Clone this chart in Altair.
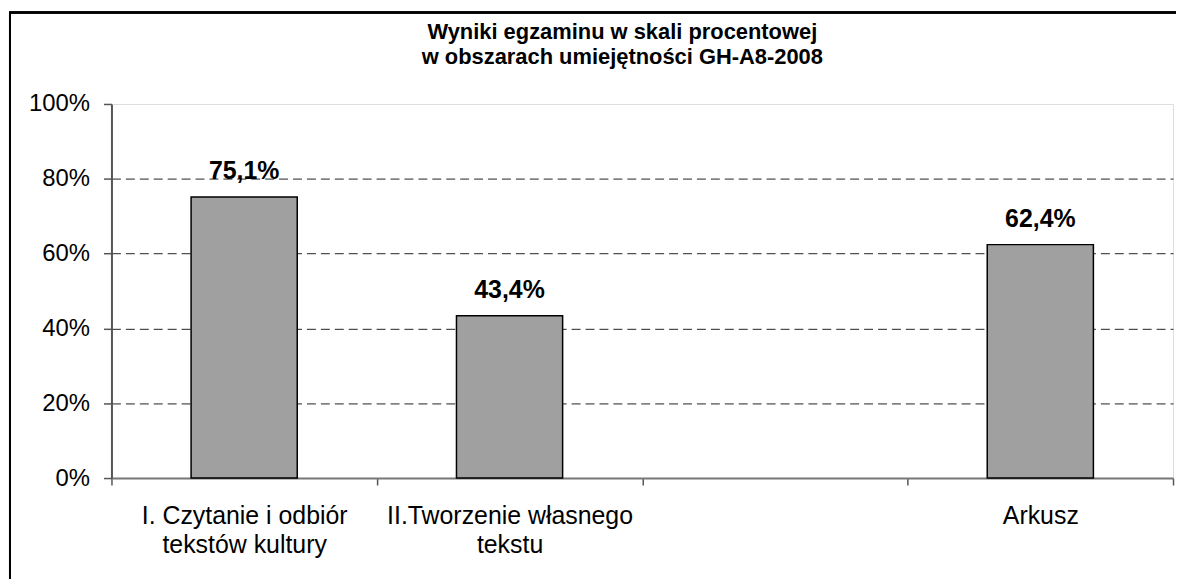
import altair as alt
import pandas as pd

categories = ["I. Czytanie i odbiór\ntekstów kultury", "II.Tworzenie własnego\ntekstu", " ", "Arkusz"]
values = [75.1, 43.4, None, 62.4]
y_ticks = [0, 20, 40, 60, 80, 100]
title_lines = ["Wyniki egzaminu w skali procentowej", "w obszarach umiejętności GH-A8-2008"]

df = pd.DataFrame({"cat": categories, "val": values})

W, H = 1067, 376
FONT = "Liberation Sans"

x_axis = alt.Axis(
    title=None,
    labelAngle=0,
    labelExpr="split(datum.label, '\\n')",
    labelFont=FONT,
    labelFontSize=25,
    labelLineHeight=29,
    labelColor="black",
    labelLimit=400,
    labelPadding=19,
    tickBand="extent",
    tickSize=7,
    tickColor="#555555",
    tickWidth=1.5,
    domainColor="#777777",
    domainWidth=2,
    grid=False,
)

x_enc = alt.X(
    "cat:N",
    sort=categories,
    scale=alt.Scale(domain=categories, paddingInner=0, paddingOuter=0),
    axis=x_axis,
)

y_enc = alt.Y(
    "val:Q",
    scale=alt.Scale(domain=[0, 100], nice=False),
    axis=alt.Axis(
        title=None,
        values=y_ticks,
        labelExpr="datum.value + '%'",
        labelFont=FONT,
        labelFontSize=24,
        labelColor="black",
        labelPadding=14,
        tickSize=8,
        tickColor="#555555",
        tickWidth=1.5,
        domainColor="#555555",
        domainWidth=2,
        grid=True,
        gridColor="#222222",
        gridWidth=1,
        gridDash=[9, 5],
        gridOpacity={"condition": {"test": "datum.value === 100 || datum.value === 0", "value": 0}, "value": 1},
    ),
)

border = alt.Chart(df).mark_rect(filled=False, stroke="black", strokeWidth=2, clip=False).encode(
    x=alt.value(-102), x2=alt.value(W + 40), y=alt.value(-92), y2=alt.value(H + 300)
)

bars = alt.Chart(df).transform_filter("isValid(datum.val)").mark_bar(
    width=alt.RelativeBandSize(0.4), fill="#a0a0a0", stroke="black", strokeWidth=1.5
).encode(x=x_enc, y=y_enc)

labels = alt.Chart(df).transform_filter("isValid(datum.val)").transform_calculate(
    txt="replace(format(datum.val, '.1f'), '.', ',') + '%'"
).mark_text(
    font=FONT, fontSize=25, fontWeight="bold", baseline="alphabetic", dy=-18, color="black"
).encode(
    x=x_enc,
    y=y_enc,
    text="txt:N",
)

chart = alt.layer(border, bars, labels).properties(
    width=W,
    height=H,
    title=alt.TitleParams(
        title_lines,
        font=FONT,
        fontSize=22,
        fontWeight="bold",
        color="black",
        anchor="middle",
        frame="group",
        dx=-20,
        offset=-58,
        lineHeight=25,
    ),
    autosize=alt.AutoSizeParams(type="none"),
    padding={"left": 104, "top": 95, "right": 3, "bottom": 100},
).configure_view(stroke="#777777", strokeWidth=2).configure(background="white")

chart.save("out.html", embed_options={"renderer": "svg", "actions": False})
